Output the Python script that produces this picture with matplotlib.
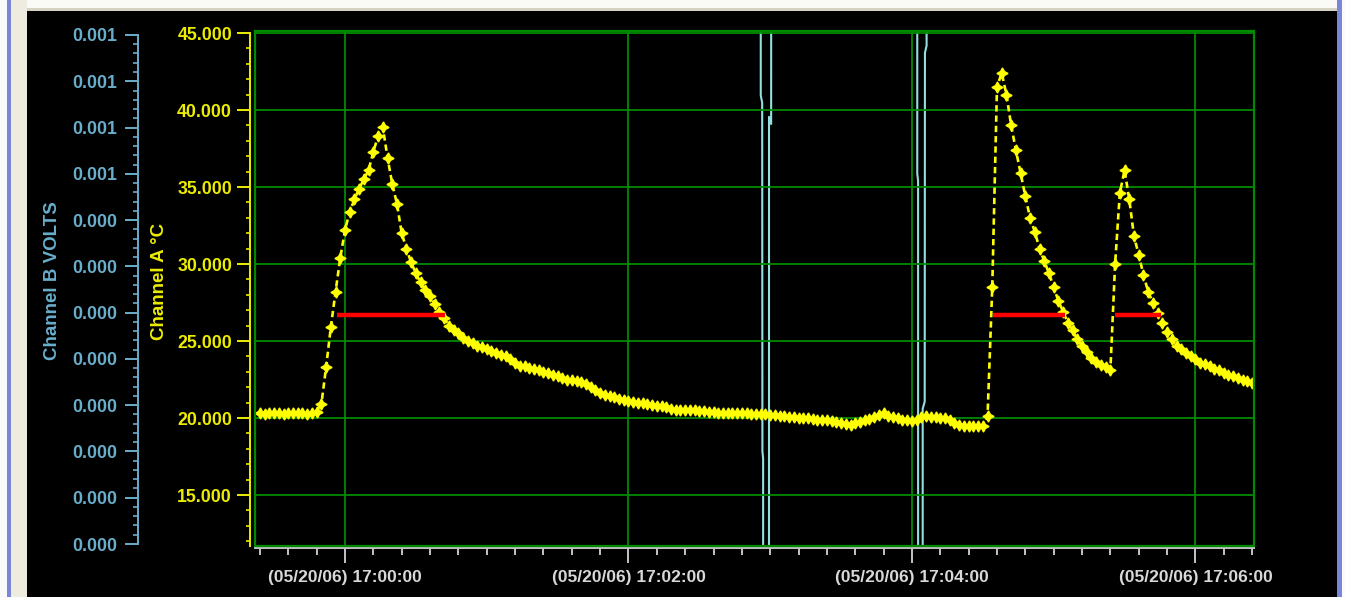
import matplotlib
matplotlib.use("Agg")
import matplotlib.pyplot as plt
import matplotlib.dates as mdates
from matplotlib.patches import Rectangle
from matplotlib.ticker import MultipleLocator, FixedLocator, FixedFormatter, AutoMinorLocator, FormatStrFormatter
import numpy as np
import pandas as pd

plt.rcParams["font.family"] = ["Liberation Sans", "DejaVu Sans"]
plt.rcParams["font.weight"] = "bold"

T0 = pd.Timestamp("2006-05-20 17:00:00")

# Channel A (deg C), one sample every 2 s starting 16:59:24
CHA_START_S = -36
CHA_STEP_S = 2
CHA_DEGC = [
    20.3, 20.25, 20.35, 20.3, 20.3, 20.25, 20.3, 20.35, 20.3, 20.3, 20.25, 20.3, 20.4,
    20.9, 23.3, 25.9, 28.2, 30.4, 32.2, 33.4, 34.2, 34.9, 35.5, 36.1, 37.3, 38.3, 38.9,
    36.9, 35.2, 33.9, 32.0, 31.0, 30.1, 29.4, 28.8, 28.3, 27.9,
    27.4, 26.9, 26.5, 26.0, 25.7, 25.5, 25.2, 25.0, 24.85, 24.7,
    24.6, 24.45, 24.35, 24.2, 24.1, 24.0, 23.8, 23.55, 23.4, 23.35,
    23.25, 23.2, 23.1, 23.0, 22.9, 22.8, 22.7, 22.6, 22.5, 22.45,
    22.4, 22.35, 22.2, 22.0, 21.8, 21.65, 21.5, 21.45, 21.35, 21.25,
    21.2, 21.1, 21.05, 21.0, 20.95, 20.9, 20.85, 20.8, 20.75, 20.7,
    20.6, 20.55, 20.5, 20.5, 20.5, 20.5, 20.45, 20.45, 20.4, 20.4,
    20.35, 20.35, 20.35, 20.3, 20.3, 20.3, 20.3, 20.28, 20.26, 20.25,
    20.25, 20.22, 20.2, 20.15, 20.1, 20.05, 20.05, 20.0, 20.0, 19.98,
    19.95, 19.9, 19.88, 19.85, 19.83, 19.75, 19.65, 19.6, 19.55, 19.65,
    19.75, 19.85, 19.95, 20.05, 20.2, 20.3, 20.15, 20.05, 20.0, 19.9,
    19.85, 19.8, 19.9, 20.05, 20.1, 20.05, 20.05, 20.0, 20.0, 19.9,
    19.7, 19.55, 19.5, 19.45, 19.45, 19.45, 19.5, 20.1, 28.5, 41.5,
    42.4, 41.0, 39.0, 37.4, 35.9, 34.4, 33.0, 32.1, 31.0, 30.2,
    29.4, 28.5, 27.6, 26.9, 26.2, 25.7, 25.1, 24.7, 24.3, 23.9,
    23.65, 23.45, 23.3, 23.1, 30.0, 34.6, 36.1, 34.2, 31.8, 30.6,
    29.3, 28.2, 27.5, 26.8, 26.2, 25.6, 25.1, 24.7, 24.45, 24.2,
    24.0, 23.8, 23.6, 23.5, 23.35, 23.2, 23.1, 22.95, 22.8, 22.7,
    22.6, 22.5, 22.4, 22.3,
]

# Channel B (volts): off scale most of the time, visible only while switching
CHB_T_S = [-37, 175.9, 176.0, 176.6, 176.7, 177.0, 177.1, 179.4, 179.5, 180.4, 180.5,
           242.2, 242.25, 242.6, 242.7, 244.5, 244.55, 245.4, 245.5, 246.2, 246.3, 386]
CHB_VOLTS = [0.005, 0.005, 0.00063, 0.00062, 0.00013, 0.00012, -0.004, -0.004, 0.00060, 0.00059, 0.005,
             0.005, 0.00052, 0.00051, -0.004, -0.004, 0.00019, 0.00020, 0.00069, 0.00070, 0.005, 0.005]

# red alarm bars
THRESH_LEVEL = 26.7
THRESH_START_S = [-3.4, 274.2, 325.9]
THRESH_END_S = [42.3, 304.8, 345.3]

CHB_TICKS = [0.0, 0.000065, 0.00013, 0.000195, 0.00026, 0.000325,
             0.00039, 0.000455, 0.00052, 0.000585, 0.00065, 0.000715]
CHB_LABELS = ["0.000", "0.000", "0.000", "0.000", "0.000", "0.000",
              "0.000", "0.000", "0.001", "0.001", "0.001", "0.001"]

YELLOW = "#ffff00"
YELLOW_TXT = "#ecec00"
BLUE_TXT = "#68aecb"
CYAN = "#96dde0"
GREEN = "#008a00"
GREY = "#c4c4c4"

W, H = 1345, 597


def sec(s):
    t = T0 + pd.to_timedelta(np.asarray(s, dtype=float), unit="s")
    return mdates.date2num(t.to_pydatetime())


fig = plt.figure(figsize=(W / 100, H / 100), dpi=100, facecolor="black")


def px_rect(x0, y0, w, h, color):
    fig.add_artist(Rectangle((x0 / W, 1 - (y0 + h) / H), w / W, h / H,
                             transform=fig.transFigure, color=color, lw=0, zorder=-5))


# window chrome around the black plot panel
px_rect(0, 0, W, 9, "#fafaf7")
px_rect(0, 8, W, 3, "#d6d2c4")
px_rect(0, 0, 27, H, "#eeebe0")
px_rect(0, 0, 7, H, "#fafafa")
px_rect(7, 0, 4, H, "#7a86d8")
px_rect(1337, 0, 5, H, "#7a86d8")
px_rect(1342, 0, 3, H, "#fafafa")

ax = fig.add_axes([255 / W, 51 / H, 999 / W, 515 / H])
ax.xaxis_date()
axb = ax.twinx()
ax.set_zorder(axb.get_zorder() + 1)
ax.patch.set_visible(False)
axb.patch.set_visible(False)

t_a = sec(CHA_START_S + CHA_STEP_S * np.arange(len(CHA_DEGC)))
ax.plot(t_a, CHA_DEGC, color=YELLOW, lw=1.9, ls=(0, (2.4, 1.5)),
        marker=(4, 1, 0), ms=8, mec=YELLOW, mfc=YELLOW, zorder=3)
ax.hlines([THRESH_LEVEL] * len(THRESH_START_S), sec(THRESH_START_S), sec(THRESH_END_S),
          color="#ff0000", lw=3.2, zorder=4)

axb.plot(sec(CHB_T_S), CHB_VOLTS, color=CYAN, lw=1.5)

ylo = 11.69
ax.set_ylim(ylo, 45.13)
ax.set_xlim(sec(-38.1), sec(384.8))
axb.set_ylim(-2.8e-6, 0.0007206)

# grid and green frame
ax.grid(True, which="major", color=GREEN, lw=1.3)
ax.add_patch(Rectangle((0, 0), 1, 1, transform=ax.transAxes, fill=False,
                       ec=GREEN, lw=1.6, clip_on=False, zorder=5))

for s in ["top", "right"]:
    ax.spines[s].set_visible(False)
for s in ["top", "right", "bottom"]:
    axb.spines[s].set_visible(False)

# Channel A axis
ax.spines["left"].set_position(("outward", 3.6))
ax.spines["left"].set_color(YELLOW_TXT)
ax.spines["left"].set_linewidth(1.4)
ax.spines["left"].set_bounds(ylo, 45)
ax.yaxis.set_major_locator(MultipleLocator(5))
ax.yaxis.set_minor_locator(MultipleLocator(1))
ax.yaxis.set_major_formatter(FormatStrFormatter("%.3f"))
ax.tick_params(axis="y", which="major", length=9.4, width=1.4, color=YELLOW_TXT,
               labelcolor=YELLOW_TXT, labelsize=12.8, pad=3.5)
ax.tick_params(axis="y", which="minor", length=3, width=1.2, color=YELLOW_TXT)

# time axis
ax.spines["bottom"].set_position(("outward", 1.5))
ax.spines["bottom"].set_color(GREY)
ax.spines["bottom"].set_linewidth(1.4)
ax.xaxis.set_major_locator(mdates.MinuteLocator(byminute=range(0, 60, 2)))
ax.xaxis.set_minor_locator(mdates.SecondLocator(bysecond=range(0, 60, 12)))
ax.xaxis.set_major_formatter(mdates.DateFormatter("(%m/%d/%y) %H:%M:%S"))
ax.tick_params(axis="x", which="major", length=10.8, width=1.4, color=GREY,
               labelcolor="#d8d8d8", labelsize=12.5, pad=5)
ax.tick_params(axis="x", which="minor", length=5, width=1.4, color=GREY)

# Channel B axis, far left
axb.yaxis.set_ticks_position("left")
axb.yaxis.set_label_position("left")
axb.spines["left"].set_visible(True)
axb.spines["left"].set_position(("outward", 84.2))
axb.spines["left"].set_color(BLUE_TXT)
axb.spines["left"].set_linewidth(1.4)
axb.spines["left"].set_bounds(CHB_TICKS[0], CHB_TICKS[-1])
axb.yaxis.set_major_locator(FixedLocator(CHB_TICKS))
axb.yaxis.set_major_formatter(FixedFormatter(CHB_LABELS))
axb.yaxis.set_minor_locator(AutoMinorLocator(5))
axb.tick_params(axis="y", which="major", length=9.4, width=1.4, color=BLUE_TXT,
                labelcolor=BLUE_TXT, labelsize=12.8, pad=5.8)
axb.tick_params(axis="y", which="minor", length=3.6, width=1.2, color=BLUE_TXT)

fig.text(160 / W, 1 - 281 / H, "Channel A °C", rotation=90, ha="center", va="center",
         color=YELLOW_TXT, fontsize=13.5)
fig.text(53 / W, 1 - 281 / H, "Channel B VOLTS", rotation=90, ha="center", va="center",
         color=BLUE_TXT, fontsize=13.5)

fig.savefig("out.png", dpi=100, facecolor=fig.get_facecolor())
plt.close(fig)
